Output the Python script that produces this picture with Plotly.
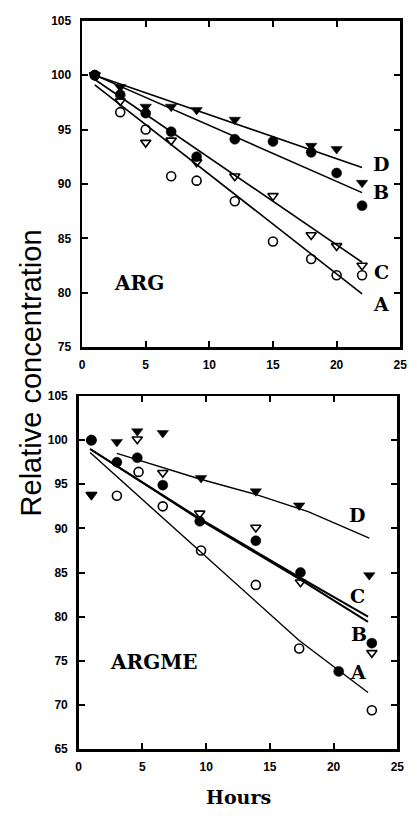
import plotly.graph_objects as go

# ---------------- ARG (top panel) ----------------
arg_A_x = [1, 3, 5, 7, 9, 12, 15, 18, 20, 22]
arg_A_y = [100, 96.6, 95.0, 90.7, 90.3, 88.4, 84.7, 83.1, 81.6, 81.6]
arg_B_x = [1, 3, 5, 7, 9, 12, 15, 18, 20, 22]
arg_B_y = [100, 98.2, 96.5, 94.8, 92.5, 94.1, 93.9, 92.9, 91.0, 88.0]
arg_C_x = [1, 3, 5, 7, 9, 12, 15, 18, 20, 22]
arg_C_y = [100, 97.6, 93.8, 94.0, 92.0, 90.7, 88.9, 85.3, 84.3, 82.5]
arg_D_x = [1, 3, 5, 7, 9, 12, 18, 20, 22]
arg_D_y = [100, 98.9, 97.1, 97.1, 96.8, 95.9, 93.5, 93.2, 90.1]

# fitted curves
arg_fit_A_x = [1, 22]
arg_fit_A_y = [99.1, 79.9]
arg_fit_B_x = [1, 22]
arg_fit_B_y = [100, 89.2]
arg_fit_C_x = [1, 22]
arg_fit_C_y = [99.6, 82.8]
arg_fit_D_x = [1, 22]
arg_fit_D_y = [100, 91.5]

# ---------------- ARGME (bottom panel) ----------------
argme_A_x = [1, 3.0, 4.7, 6.6, 9.6, 13.9, 17.3, 23.0]
argme_A_y = [100, 93.7, 96.4, 92.5, 87.5, 83.6, 76.4, 69.4]
argme_B_x = [1, 3.0, 4.6, 6.6, 9.5, 13.9, 17.4, 20.4, 23.0]
argme_B_y = [100, 97.5, 98.0, 94.9, 90.8, 88.6, 85.0, 73.8, 77.0]
argme_C_x = [1, 4.6, 6.6, 9.5, 13.9, 17.4, 23.0]
argme_C_y = [93.8, 100.1, 96.3, 91.7, 90.1, 83.9, 75.9]
argme_D_x = [1, 3.0, 4.6, 6.6, 9.6, 13.9, 17.3, 22.8]
argme_D_y = [93.8, 99.8, 101.0, 100.8, 95.7, 94.2, 92.6, 84.7]

argme_fit_A_x = [0.9, 9.6, 17.3, 22.7]
argme_fit_A_y = [98.6, 87.3, 77.3, 71.4]
argme_fit_B_x = [0.9, 9.5, 17.4, 22.7]
argme_fit_B_y = [99.0, 91.0, 84.2, 79.4]
argme_fit_C_x = [0.9, 9.5, 17.4, 22.7]
argme_fit_C_y = [99.0, 91.1, 84.4, 80.0]
argme_fit_D_x = [3.0, 9.5, 14.0, 18.0, 22.8]
argme_fit_D_y = [98.5, 95.6, 93.8, 91.9, 88.9]

x_ticks = [0, 5, 10, 15, 20, 25]

W, H = 418, 816


def px(p):
    return p / W


def py(p):
    return 1 - p / H


fig = go.Figure()


def add_fit(x, y, xa, ya, w):
    fig.add_trace(go.Scatter(x=x, y=y, mode="lines", xaxis=xa, yaxis=ya,
                             line=dict(color="black", width=w),
                             showlegend=False, hoverinfo="skip"))


def add_pts(x, y, xa, ya, symbol, size=10, lw=1.6):
    fig.add_trace(go.Scatter(x=x, y=y, mode="markers", xaxis=xa, yaxis=ya,
                             marker=dict(symbol=symbol, size=size, color="black",
                                         line=dict(color="black", width=lw)),
                             showlegend=False))


# top panel
add_fit(arg_fit_A_x, arg_fit_A_y, "x", "y", 1.6)
add_fit(arg_fit_B_x, arg_fit_B_y, "x", "y", 1.6)
add_fit(arg_fit_C_x, arg_fit_C_y, "x", "y", 1.6)
add_fit(arg_fit_D_x, arg_fit_D_y, "x", "y", 1.6)
add_pts(arg_A_x, arg_A_y, "x", "y", "circle-open", 9)
add_pts(arg_C_x, arg_C_y, "x", "y", "triangle-down-open", 9)
add_pts(arg_D_x, arg_D_y, "x", "y", "triangle-down", 10, 0.5)
add_pts(arg_B_x, arg_B_y, "x", "y", "circle", 10, 0.5)

# bottom panel
add_fit(argme_fit_A_x, argme_fit_A_y, "x2", "y2", 1.4)
add_fit(argme_fit_B_x, argme_fit_B_y, "x2", "y2", 2.0)
add_fit(argme_fit_C_x, argme_fit_C_y, "x2", "y2", 2.0)
add_fit(argme_fit_D_x, argme_fit_D_y, "x2", "y2", 1.4)
add_pts(argme_A_x, argme_A_y, "x2", "y2", "circle-open", 9)
add_pts(argme_C_x, argme_C_y, "x2", "y2", "triangle-down-open", 9)
add_pts(argme_D_x, argme_D_y, "x2", "y2", "triangle-down", 10, 0.5)
add_pts(argme_B_x, argme_B_y, "x2", "y2", "circle", 10, 0.5)

tickfont = dict(family="Liberation Sans, Arial, sans-serif", size=12, color="black", weight="bold")

axis_common = dict(showgrid=False, zeroline=False, showline=True, linecolor="black",
                   linewidth=2.5, mirror="allticks", ticks="inside", ticklen=6,
                   tickwidth=2, tickcolor="black", tickfont=tickfont, fixedrange=True,
                   ticklabeloverflow="allow")

fig.update_layout(
    width=W, height=H,
    margin=dict(l=0, r=0, t=0, b=0),
    paper_bgcolor="white", plot_bgcolor="white",
    xaxis=dict(domain=[px(81), px(407)], anchor="y", range=[0, 25], tickvals=x_ticks,
               ticklabelstandoff=5, **axis_common),
    yaxis=dict(domain=[py(346), py(14)], anchor="x", range=[75, 105], dtick=5,
               ticklabelstandoff=6, **axis_common),
    xaxis2=dict(domain=[px(77.5), px(404)], anchor="y2", range=[0, 25], tickvals=x_ticks,
                ticklabelstandoff=5, **axis_common),
    yaxis2=dict(domain=[py(755), py(395.8)], anchor="x2", range=[65, 105], dtick=5,
                ticklabelstandoff=6, **axis_common),
)

serif = "DejaVu Serif, serif"
annots = [
    ("D", "x", "y", 23.5, 91.8, 19),
    ("B", "x", "y", 23.5, 89.3, 19),
    ("C", "x", "y", 23.5, 81.9, 19),
    ("A", "x", "y", 23.5, 79.0, 19),
    ("ARG", "x", "y", 4.45, 80.9, 20),
    ("D", "x2", "y2", 21.8, 91.5, 19),
    ("C", "x2", "y2", 21.9, 82.3, 19),
    ("B", "x2", "y2", 22.0, 78.0, 19),
    ("A", "x2", "y2", 21.9, 73.7, 19),
    ("ARGME", "x2", "y2", 5.95, 74.9, 20),
]
for t, xr, yr, x, y, s in annots:
    fig.add_annotation(text=t, xref=xr, yref=yr, x=x, y=y, showarrow=False,
                       font=dict(family=serif, size=s, color="black", weight="bold"),
                       xanchor="center", yanchor="middle")

fig.add_annotation(text="Relative concentration", xref="paper", yref="paper",
                   x=px(29), y=py(372.5), textangle=-90, showarrow=False,
                   font=dict(family="Liberation Sans, Arial, sans-serif", size=29, color="black"),
                   xanchor="center", yanchor="middle")
fig.add_annotation(text="Hours", xref="paper", yref="paper",
                   x=px(241.5), y=py(804), showarrow=False,
                   font=dict(family=serif, size=19, color="black", weight="bold"),
                   xanchor="center", yanchor="middle")

# remove the page's default body margin so the 418x816 figure fills the window exactly
fig.write_html("out.html",
               config={"displayModeBar": False, "staticPlot": True},
               post_script="document.body.style.margin='0';document.body.style.overflow='hidden';")
